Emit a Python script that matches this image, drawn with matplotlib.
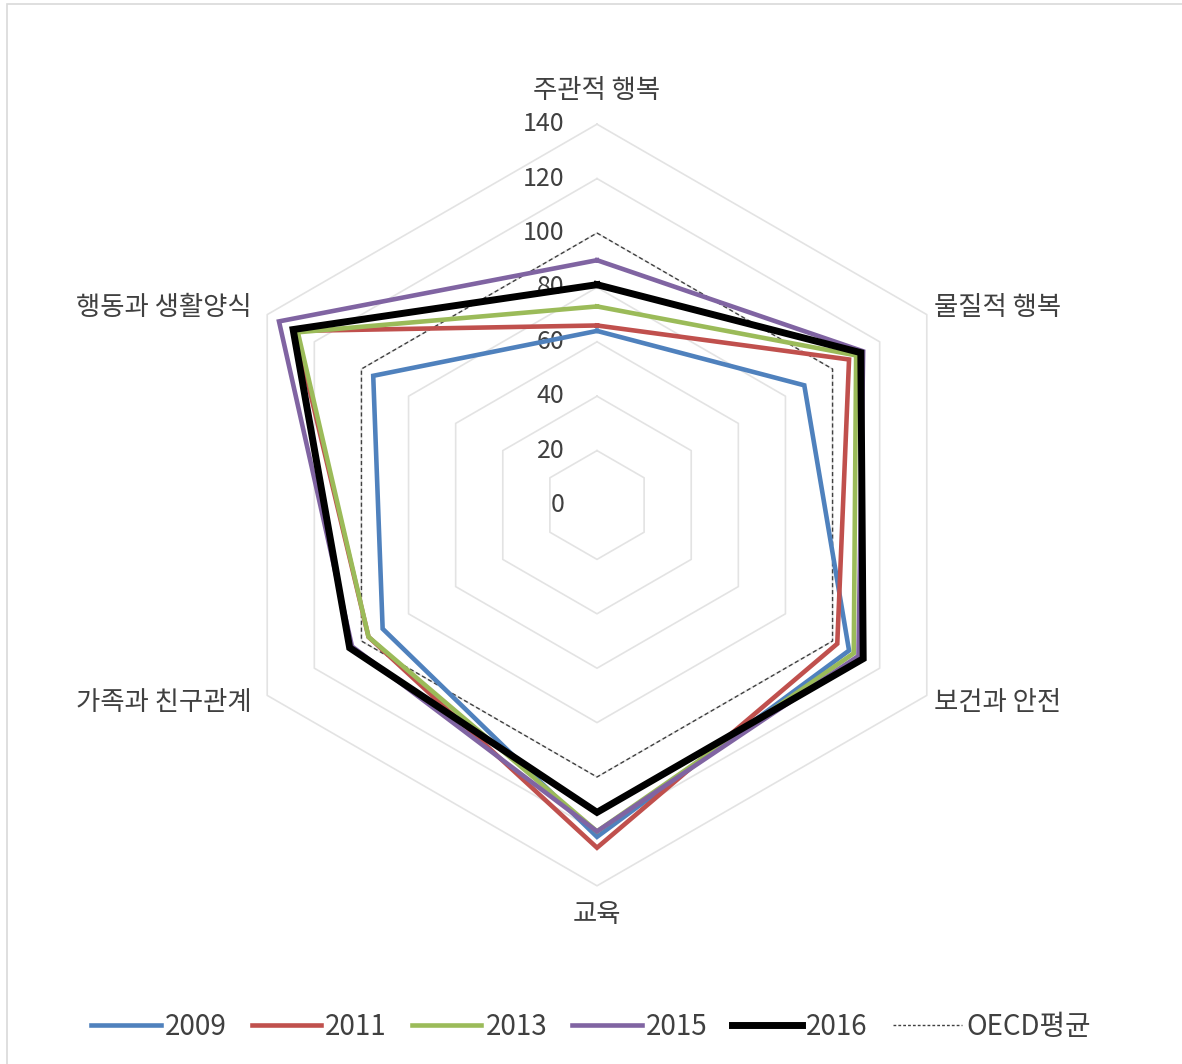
import numpy as np
import matplotlib
matplotlib.use('Agg')
import matplotlib.pyplot as plt
from matplotlib.patches import Rectangle

plt.rcParams['font.family'] = ['Noto Sans CJK KR', 'DejaVu Sans']

# categories clockwise from the top
categories = ['주관적 행복', '물질적 행복', '보건과 안전', '교육', '가족과 친구관계', '행동과 생활양식']
years = ['2009', '2011', '2013', '2015', '2016']
v2009 = [64, 88, 107, 122, 91, 95]
v2011 = [66, 107, 102, 126, 97, 128]
v2013 = [73, 110, 109, 120, 97, 127]
v2015 = [90, 113, 111, 120, 104, 135]
v2016 = [81, 112, 113, 113, 105, 129]
oecd = [100, 100, 100, 100, 100, 100]
ticks = [0, 20, 40, 60, 80, 100, 120, 140]

colors = ['#4F81BD', '#C0504D', '#9BBB59', '#8064A2', '#000000']
widths = [3.3, 3.3, 3.3, 3.3, 5.0]

W, H = 1182, 1064
px = 2.72          # pixels per data unit
cx, cy = 597, 505  # centre in pixels from top-left

fig = plt.figure(figsize=(W / 100, H / 100), dpi=100)
ax = fig.add_axes([0, 0, 1, 1])
ax.set_xlim(-cx / px, (W - cx) / px)
ax.set_ylim(-(H - cy) / px, cy / px)
ax.axis('off')

ang = np.pi / 2 - np.arange(6) * np.pi / 3


def xy(vals):
    r = np.array(list(vals) + [vals[0]], dtype=float)
    a = np.append(ang, ang[0])
    return r * np.cos(a), r * np.sin(a)


# hexagonal grid
for t in ticks[1:]:
    gx, gy = xy([t] * 6)
    ax.plot(gx, gy, color='#E3E3E3', lw=1.2, zorder=1)

for t in ticks:
    ax.text(-12, t, str(t), ha='right', va='center', fontsize=18,
            color='#404040', zorder=2)

ox, oy = xy(oecd)
ax.plot(ox, oy, color='#404040', lw=1.0, ls=(0, (3, 2)), zorder=3)

series = [v2009, v2011, v2013, v2015, v2016]
handles = []
for vals, c, w, lab in zip(series, colors, widths, years):
    sx, sy = xy(vals)
    h, = ax.plot(sx, sy, color=c, lw=w, solid_joinstyle='miter', zorder=4, label=lab)
    handles.append(h)
oh, = ax.plot([], [], color='#404040', lw=1.0, ls=(0, (2, 1.5)), label='OECD평균')
handles.append(oh)

# category labels
lab_pos = [(0, 152.5, 'center', 'center'),
           (124, 72.5, 'left', 'center'),
           (124, -72.5, 'left', 'center'),
           (0, -150.5, 'center', 'center'),
           (-127, -72.5, 'right', 'center'),
           (-127, 72.5, 'right', 'center')]
for name, (lx, ly, ha, va) in zip(categories, lab_pos):
    ax.text(lx, ly, name, ha=ha, va=va, fontsize=19, color='#404040')

fig.legend(handles=handles, loc='center', bbox_to_anchor=(0.5, 1 - 1027 / H),
           ncol=6, frameon=False, fontsize=20, handlelength=2.5,
           handletextpad=0.15, columnspacing=0.9, labelcolor='#404040')

fig.patches.append(Rectangle((7 / W, -0.1), 1.2, 1 - 4 / H + 0.1,
                             transform=fig.transFigure, fill=False,
                             edgecolor='#D9D9D9', lw=1.2))

fig.savefig('out.png', dpi=100)
